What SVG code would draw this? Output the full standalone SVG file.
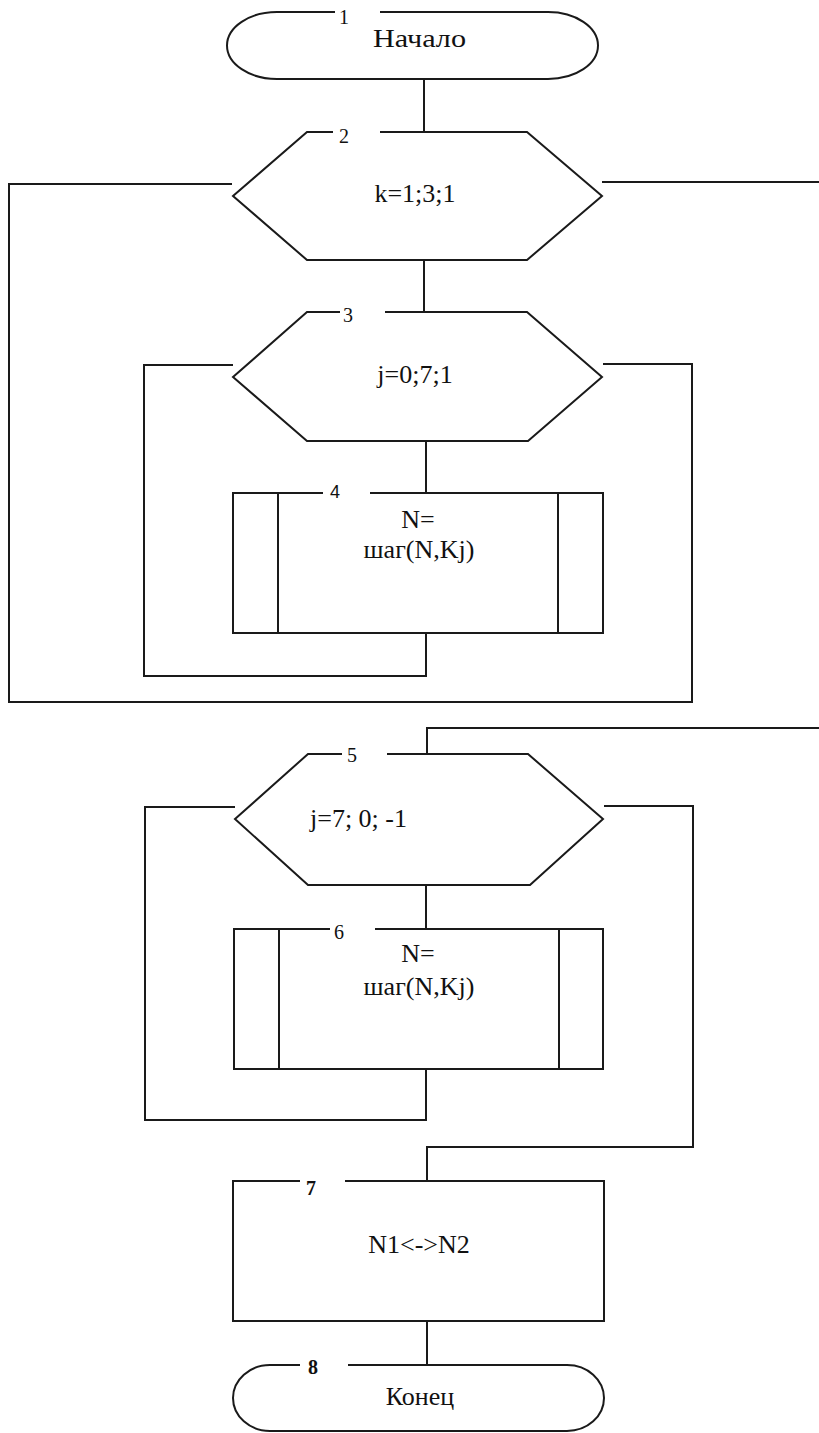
<svg xmlns="http://www.w3.org/2000/svg" width="819" height="1433" viewBox="0 0 819 1433">
<style>
.s{fill:none;stroke:#1a1a1a;stroke-width:2;stroke-linejoin:miter}
.t{font-family:"Liberation Serif","Times New Roman",serif;font-size:26px;fill:#111}
.n{font-family:"Liberation Serif","Times New Roman",serif;font-size:20px;fill:#111;text-anchor:middle}
.c{text-anchor:middle}
</style>
<rect width="819" height="1433" fill="#fff"/>
<g id="connectors" class="s">
<path d="M424 79 V132"/>
<path d="M424 260 V312"/>
<path d="M426 441 V493"/>
<path d="M426 633 V676 H144 V365 H233"/>
<path d="M603 364 H692 V702 H9 V184 H232"/>
<path d="M602 182 H819"/>
<path d="M819 728 H427 V754"/>
<path d="M426 885 V929"/>
<path d="M426 1069 V1120 H145 V807 H235"/>
<path d="M604 806 H693 V1147 H427 V1181"/>
<path d="M427 1321 V1365"/>
</g>
<g id="n1">
<path class="s" d="M380 12 L548 12 A50 33.5 0 0 1 548 79 L277 79 A50 33.5 0 0 1 277 12 L335 12"/>
<text class="n" x="344" y="24">1</text>
<text class="t" x="373" y="47" textLength="93" lengthAdjust="spacingAndGlyphs">Начало</text>
</g>
<g id="n2">
<path class="s" d="M380 132 L527 132 L602 196 L527 260 L307 260 L233 196 L307 132 L333 132"/>
<text class="n" x="344" y="143">2</text>
<text class="t c" x="415" y="202">k=1;3;1</text>
</g>
<g id="n3">
<path class="s" d="M385 312 L527 312 L602 377 L528 441 L307 441 L233 377 L307 312 L340 312"/>
<text class="n" x="348" y="322">3</text>
<text class="t c" x="415" y="383">j=0;7;1</text>
</g>
<g id="n4">
<path class="s" d="M370 493 L603 493 L603 633 L233 633 L233 493 L323 493 M278 493 V633 M558 493 V633"/>
<text class="n" x="335" y="498" style="font-family:'Liberation Sans',Arial,sans-serif;font-size:18px">4</text>
<text class="t c" x="418" y="528">N=</text>
<text class="t c" x="419" y="558">шаг(N,Kj)</text>
</g>
<g id="n5">
<path class="s" d="M387 754 L528 754 L603 819 L530 885 L308 885 L235 819 L308 754 L342 754"/>
<text class="n" x="352" y="762">5</text>
<text class="t" x="310" y="827">j=7; 0; -1</text>
</g>
<g id="n6">
<path class="s" d="M375 929 L603 929 L603 1069 L234 1069 L234 929 L330 929 M279 929 V1069 M559 929 V1069"/>
<text class="n" x="339" y="939">6</text>
<text class="t c" x="418" y="962">N=</text>
<text class="t c" x="419" y="995">шаг(N,Kj)</text>
</g>
<g id="n7">
<path class="s" d="M345 1181 L604 1181 L604 1321 L233 1321 L233 1181 L300 1181"/>
<text class="n" x="311" y="1195" font-weight="bold">7</text>
<text class="t c" x="419" y="1253">N1&lt;-&gt;N2</text>
</g>
<g id="n8">
<path class="s" d="M348 1365 L567 1365 A37 33 0 0 1 567 1431 L270 1431 A37 33 0 0 1 270 1365 L300 1365"/>
<text class="n" x="313" y="1374" font-weight="bold">8</text>
<text class="t c" x="420" y="1405">Конец</text>
</g>
</svg>
